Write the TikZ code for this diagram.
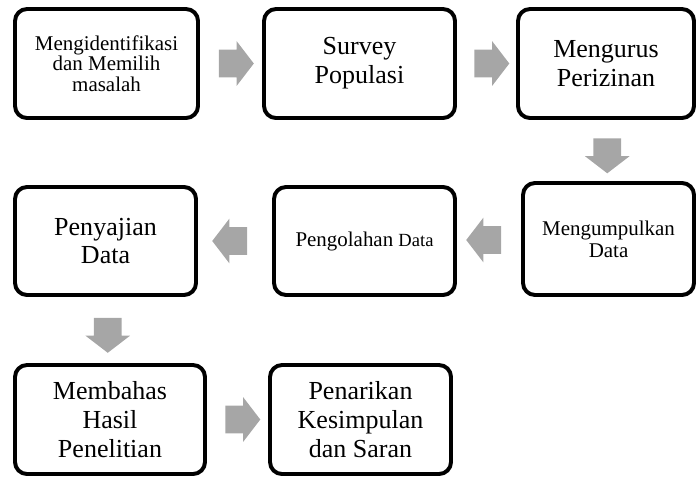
\documentclass[tikz,border=0pt]{standalone}
\usepackage{fontspec}
\setmainfont{Liberation Serif}
\usetikzlibrary{shapes.arrows,calc}
\definecolor{arrowgray}{HTML}{A6A6A6}

\begin{document}
\begin{tikzpicture}[
  stage/.style={draw, line width=2.8pt, rounded corners=0.3cm, align=center, inner sep=0pt, font=\fontsize{18.5}{20.6}\selectfont},
  smalltext/.style={font=\fontsize{14.9}{15.6}\selectfont},
  flow/.style={single arrow, fill=arrowgray, draw=none, inner xsep=0pt, inner ysep=0.3375cm, minimum height=0.875cm, minimum width=1.1cm, single arrow head extend=0.2125cm, single arrow tip angle=105}
]
\useasboundingbox (0,0) rectangle (17.400,-11.925);
% top row
\node[stage, minimum width=4.575cm, minimum height=2.725cm, font=\fontsize{14.9}{14.6}\selectfont] (ident) at (2.663,-1.588) {Mengidentifikasi\\dan Memilih\\masalah};
\node[stage, minimum width=4.775cm, minimum height=2.725cm] (survey) at (8.988,-1.588) {Survey\\Populasi};
\node[stage, minimum width=4.400cm, minimum height=2.725cm] (izin) at (15.150,-1.588) {Mengurus\\Perizinan};
% middle row
\node[stage, smalltext, minimum width=4.275cm, minimum height=2.800cm] (kumpul) at (15.213,-5.975) {Mengumpulkan\\Data};
\node[stage, smalltext, minimum width=4.525cm, minimum height=2.700cm] (olah) at (9.113,-6.025) {Pengolahan {\fontsize{13.2}{15.6}\selectfont Data}};
\node[stage, minimum width=4.525cm, minimum height=2.700cm] (saji) at (2.638,-6.025) {Penyajian\\Data};
% bottom row
\node[stage, minimum width=4.750cm, minimum height=2.725cm] (bahas) at (2.750,-10.488) {Membahas\\Hasil\\Penelitian};
\node[stage, minimum width=4.525cm, minimum height=2.725cm] (simpul) at (9.013,-10.488) {Penarikan\\Kesimpulan\\dan Saran};
% arrows
\node[flow] (a1) at ($(ident.east)!0.5!(survey.west)$) {};
\node[flow] (a2) at ($(survey.east)!0.5!(izin.west)$) {};
\node[flow, rotate=-90] (a3) at ($(izin.south)!0.5!(kumpul.north)$) {};
\node[flow, rotate=180] (a4) at ($(kumpul.west)!0.5!(olah.east)$) {};
\node[flow, rotate=180] (a5) at ($(olah.west)!0.5!(saji.east)$) {};
\node[flow, rotate=-90] (a6) at ($(saji.south)!0.5!(bahas.north)$) {};
\node[flow] (a7) at ($(bahas.east)!0.5!(simpul.west)$) {};
\end{tikzpicture}
\end{document}
